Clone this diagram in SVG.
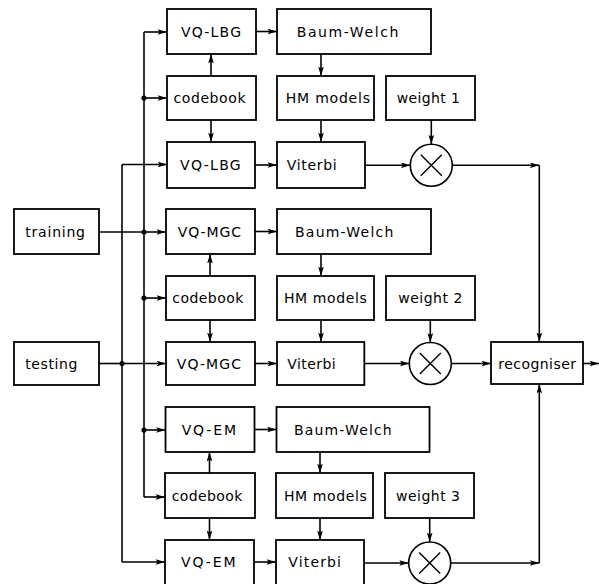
<svg xmlns="http://www.w3.org/2000/svg" width="599" height="584" viewBox="0 0 599 584">
<style>
.b{fill:#fff;stroke:#000;stroke-width:1.8}
.c{fill:#fff;stroke:#000;stroke-width:1.6}
.x{stroke:#000;stroke-width:1.4;fill:none}
text{font-family:"DejaVu Sans","Liberation Sans",sans-serif;font-size:14px;fill:#000}
#conn path,#conn line{stroke:#000;stroke-width:1.6;fill:none}
#conn circle{fill:#000}
</style>
<defs>
<marker id="a" viewBox="0 0 10 6" refX="10" refY="3" markerWidth="11" markerHeight="5.6" orient="auto" markerUnits="userSpaceOnUse"><path d="M0,0 L10,3 L0,6 L2,3 Z" fill="#000"/></marker>
</defs>
<rect width="599" height="584" fill="#fff"/>
<g id="conn">
<line x1="99" y1="232" x2="144" y2="232"/>
<line x1="99" y1="363.5" x2="122" y2="363.5"/>
<path d="M144,32 V497"/>
<path d="M144,32 H167" marker-end="url(#a)"/>
<line x1="144" y1="98" x2="167" y2="98" marker-end="url(#a)"/>
<line x1="144" y1="232" x2="166" y2="232" marker-end="url(#a)"/>
<line x1="144" y1="298" x2="166" y2="298" marker-end="url(#a)"/>
<line x1="144" y1="430" x2="165.5" y2="430" marker-end="url(#a)"/>
<path d="M144,497 H165" marker-end="url(#a)"/>
<path d="M122,164.5 V562"/>
<line x1="122" y1="164.5" x2="167" y2="164.5" marker-end="url(#a)"/>
<line x1="122" y1="363.5" x2="166" y2="363.5" marker-end="url(#a)"/>
<path d="M122,562 H165" marker-end="url(#a)"/>
<circle cx="144" cy="98" r="2.6"/>
<circle cx="144" cy="232" r="2.6"/>
<circle cx="144" cy="298" r="2.6"/>
<circle cx="144" cy="430" r="2.6"/>
<circle cx="122" cy="363.5" r="2.6"/>
<line x1="256" y1="31.5" x2="277" y2="31.5" marker-end="url(#a)"/>
<line x1="255" y1="165" x2="277" y2="165" marker-end="url(#a)"/>
<line x1="255" y1="231.5" x2="277" y2="231.5" marker-end="url(#a)"/>
<line x1="255" y1="363.5" x2="277" y2="363.5" marker-end="url(#a)"/>
<line x1="254.5" y1="429.5" x2="276.5" y2="429.5" marker-end="url(#a)"/>
<line x1="254" y1="562" x2="276" y2="562" marker-end="url(#a)"/>
<line x1="211" y1="76" x2="211" y2="54" marker-end="url(#a)"/>
<line x1="211" y1="120" x2="211" y2="142" marker-end="url(#a)"/>
<line x1="210" y1="276" x2="210" y2="254" marker-end="url(#a)"/>
<line x1="210" y1="320" x2="210" y2="342" marker-end="url(#a)"/>
<line x1="209.5" y1="473" x2="209.5" y2="452" marker-end="url(#a)"/>
<line x1="209.5" y1="518" x2="209.5" y2="540" marker-end="url(#a)"/>
<line x1="321" y1="54" x2="321" y2="76" marker-end="url(#a)"/>
<line x1="321" y1="120" x2="321" y2="142" marker-end="url(#a)"/>
<line x1="321" y1="254" x2="321" y2="276" marker-end="url(#a)"/>
<line x1="321" y1="320" x2="321" y2="342" marker-end="url(#a)"/>
<line x1="320" y1="452" x2="320" y2="473" marker-end="url(#a)"/>
<line x1="320" y1="518" x2="320" y2="540" marker-end="url(#a)"/>
<line x1="431.3" y1="120" x2="431.3" y2="144.3" marker-end="url(#a)"/>
<line x1="430.3" y1="320" x2="430.3" y2="342.5" marker-end="url(#a)"/>
<line x1="429.7" y1="518" x2="429.7" y2="542" marker-end="url(#a)"/>
<line x1="365" y1="165.3" x2="410.3" y2="165.3" marker-end="url(#a)"/>
<line x1="364.3" y1="363.5" x2="409.3" y2="363.5" marker-end="url(#a)"/>
<line x1="364" y1="563" x2="408.7" y2="563" marker-end="url(#a)"/>
<line x1="452.3" y1="165.3" x2="539.3" y2="165.3" marker-end="url(#a)"/>
<line x1="539.3" y1="165.3" x2="539.3" y2="342" marker-end="url(#a)"/>
<line x1="451.3" y1="363.5" x2="491" y2="363.5" marker-end="url(#a)"/>
<line x1="450.7" y1="563" x2="539.3" y2="563" marker-end="url(#a)"/>
<line x1="539.3" y1="563" x2="539.3" y2="384" marker-end="url(#a)"/>
<line x1="583" y1="363.5" x2="599" y2="363.5" marker-end="url(#a)"/>
</g>
<g id="training"><rect class="b" x="14" y="209" width="85" height="45"/><text x="25.3" y="236.5" textLength="59.7" lengthAdjust="spacing">training</text></g>
<g id="testing"><rect class="b" x="14" y="342" width="85" height="43"/><text x="25.3" y="368.5" textLength="52" lengthAdjust="spacing">testing</text></g>
<g id="vqlbg1"><rect class="b" x="167" y="9" width="89" height="45"/><text x="181" y="36.5" textLength="60" lengthAdjust="spacing">VQ-LBG</text></g>
<g id="codebook1"><rect class="b" x="167" y="76" width="89" height="44"/><text x="173.5" y="103" textLength="72" lengthAdjust="spacing">codebook</text></g>
<g id="vqlbg2"><rect class="b" x="167" y="142" width="88" height="46"/><text x="180" y="170" textLength="60.7" lengthAdjust="spacing">VQ-LBG</text></g>
<g id="baumwelch1"><rect class="b" x="277" y="9" width="154" height="45"/><text x="296.7" y="36.5" textLength="101.6" lengthAdjust="spacing">Baum-Welch</text></g>
<g id="hm1"><rect class="b" x="277" y="76" width="97" height="44"/><text x="285.7" y="103" textLength="84.3" lengthAdjust="spacing">HM models</text></g>
<g id="weight1"><rect class="b" x="386" y="76" width="89" height="44"/><text x="396.7" y="103" textLength="63.3" lengthAdjust="spacing">weight 1</text></g>
<g id="viterbi1"><rect class="b" x="277" y="142" width="88" height="46"/><text x="286.7" y="170" textLength="50" lengthAdjust="spacing">Viterbi</text></g>
<g id="mult1"><circle class="c" cx="431.3" cy="165.3" r="21"/><path class="x" d="M420.8,154.8 L441.8,175.8 M441.8,154.8 L420.8,175.8"/></g>
<g id="vqmgc1"><rect class="b" x="166" y="209" width="89" height="45"/><text x="177.7" y="236.5" textLength="63.3" lengthAdjust="spacing">VQ-MGC</text></g>
<g id="codebook2"><rect class="b" x="166" y="276" width="89" height="44"/><text x="172.3" y="303" textLength="71" lengthAdjust="spacing">codebook</text></g>
<g id="vqmgc2"><rect class="b" x="166" y="342" width="89" height="43"/><text x="176.7" y="368.5" textLength="64.3" lengthAdjust="spacing">VQ-MGC</text></g>
<g id="baumwelch2"><rect class="b" x="277" y="209" width="154" height="45"/><text x="295" y="236.5" textLength="98.3" lengthAdjust="spacing">Baum-Welch</text></g>
<g id="hm2"><rect class="b" x="277" y="276" width="97" height="44"/><text x="284" y="303" textLength="82.7" lengthAdjust="spacing">HM models</text></g>
<g id="weight2"><rect class="b" x="386" y="276" width="89" height="44"/><text x="398.3" y="303" textLength="64" lengthAdjust="spacing">weight 2</text></g>
<g id="viterbi2"><rect class="b" x="277" y="342" width="87.3" height="43"/><text x="287.3" y="368.5" textLength="48.4" lengthAdjust="spacing">Viterbi</text></g>
<g id="mult2"><circle class="c" cx="430.3" cy="363.5" r="21"/><path class="x" d="M419.8,353 L440.8,374 M440.8,353 L419.8,374"/></g>
<g id="recogniser"><rect class="b" x="491" y="342" width="92" height="42"/><text x="498.3" y="368.5" textLength="77.7" lengthAdjust="spacing">recogniser</text></g>
<g id="vqem1"><rect class="b" x="165.5" y="407" width="89" height="45"/><text x="181.7" y="434.5" textLength="54.3" lengthAdjust="spacing">VQ-EM</text></g>
<g id="codebook3"><rect class="b" x="165" y="473" width="90" height="45"/><text x="171.7" y="500.5" textLength="70.6" lengthAdjust="spacing">codebook</text></g>
<g id="vqem2"><rect class="b" x="165" y="540" width="89" height="47"/><text x="181" y="567" textLength="54.7" lengthAdjust="spacing">VQ-EM</text></g>
<g id="baumwelch3"><rect class="b" x="276.5" y="407" width="153" height="45"/><text x="294" y="434.5" textLength="97.7" lengthAdjust="spacing">Baum-Welch</text></g>
<g id="hm3"><rect class="b" x="276" y="473" width="97" height="45"/><text x="284" y="500.5" textLength="82.7" lengthAdjust="spacing">HM models</text></g>
<g id="weight3"><rect class="b" x="385" y="473" width="89" height="45"/><text x="396" y="500.5" textLength="64" lengthAdjust="spacing">weight 3</text></g>
<g id="viterbi3"><rect class="b" x="276" y="540" width="88" height="47"/><text x="288.3" y="567" textLength="52.7" lengthAdjust="spacing">Viterbi</text></g>
<g id="mult3"><circle class="c" cx="429.7" cy="563" r="21"/><path class="x" d="M419.2,552.5 L440.2,573.5 M440.2,552.5 L419.2,573.5"/></g>
</svg>
